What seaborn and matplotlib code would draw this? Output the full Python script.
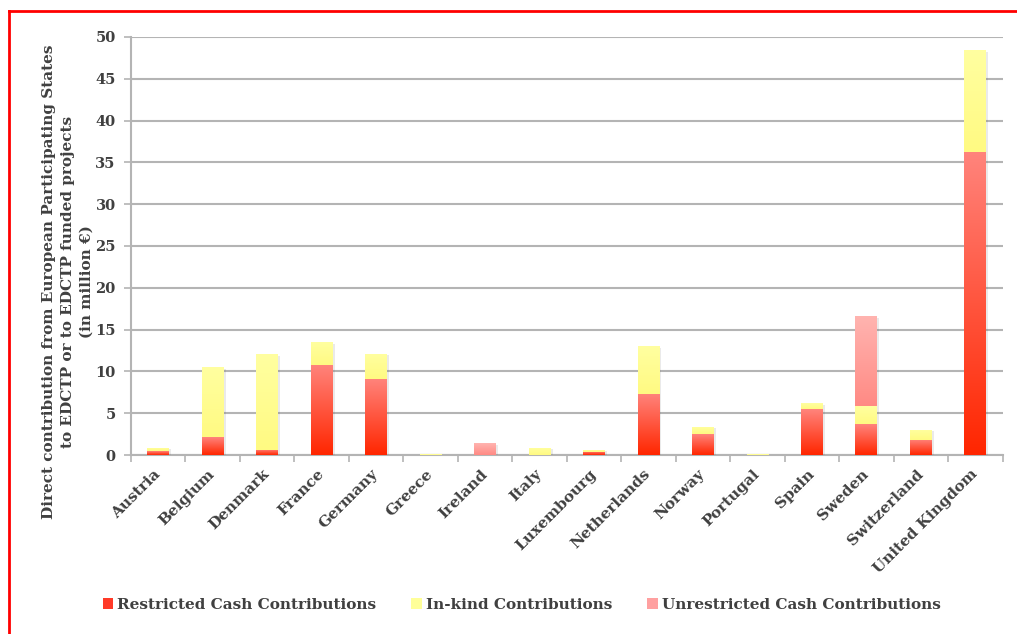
import numpy as np
import pandas as pd
import seaborn as sns
import matplotlib.pyplot as plt
import matplotlib.patheffects as pe
from matplotlib.patches import Patch
from matplotlib.lines import Line2D

countries = ["Austria", "Belgium", "Denmark", "France", "Germany", "Greece", "Ireland",
             "Italy", "Luxembourg", "Netherlands", "Norway", "Portugal", "Spain",
             "Sweden", "Switzerland", "United Kingdom"]
restricted = [0.45, 2.1, 0.65, 10.8, 9.1, 0.0, 0.0, 0.0, 0.4, 7.3, 2.5, 0.0, 5.5, 3.7, 1.8, 36.3]
in_kind = [0.4, 8.4, 11.4, 2.7, 3.0, 0.1, 0.0, 0.85, 0.25, 5.7, 0.85, 0.1, 0.7, 2.15, 1.2, 12.1]
unrestricted = [0.0, 0.0, 0.0, 0.0, 0.0, 0.0, 1.4, 0.0, 0.0, 0.0, 0.0, 0.0, 0.0, 10.75, 0.0, 0.0]

df = pd.DataFrame({"country": countries, "restricted": restricted,
                   "in_kind": in_kind, "unrestricted": unrestricted})
df["lvl1"] = df["restricted"]
df["lvl2"] = df["lvl1"] + df["in_kind"]
df["lvl3"] = df["lvl2"] + df["unrestricted"]

txt = "#404040"
grid_c = "#b4b4b4"
plt.rcParams["font.family"] = ["DejaVu Serif"]
plt.rcParams["font.weight"] = "bold"

fig = plt.figure(figsize=(10.17, 6.34), dpi=100)
ax = fig.add_axes([0.1288, 0.2823, 0.857, 0.6594])

# (column, bottom column, colour at bottom, colour at top, flat colour)
layers = [
    ("lvl3", "lvl2", (255, 138, 132), (255, 180, 176), "#ffa0a0"),
    ("lvl2", "lvl1", (255, 250, 130), (255, 255, 160), "#ffff99"),
    ("lvl1", None, (255, 38, 0), (255, 132, 124), "#ff4a35"),
]

bw = 0.4
shadow = [pe.SimplePatchShadow(offset=(1.5, -1), alpha=0.12, shadow_rgbFace="#555555"), pe.Normal()]
for col, bcol, cb, ct, flat in layers:
    n0 = len(ax.patches)
    sns.barplot(data=df, x="country", y=col, color=flat, width=bw, ax=ax,
                saturation=1, linewidth=0, zorder=3)
    new = ax.patches[n0:]
    for i, p in enumerate(new):
        top = df[col].iloc[i]
        bot = 0.0 if bcol is None else df[bcol].iloc[i]
        if top - bot <= 0:
            continue
        if bcol == "lvl2" or (bcol == "lvl1" and df["unrestricted"].iloc[i] == 0) or \
                (bcol is None and df["in_kind"].iloc[i] + df["unrestricted"].iloc[i] == 0):
            p.set_path_effects(shadow)
        g = np.linspace(0, 1, 128)[:, None, None]
        img = (np.array(cb)[None, None, :] + (np.array(ct) - np.array(cb))[None, None, :] * g) / 255.0
        x0 = p.get_x()
        im = ax.imshow(img, extent=[x0, x0 + p.get_width(), bot, top], origin="lower",
                       aspect="auto", zorder=4, interpolation="bilinear")
        im.set_clip_path(p)

ax.set_xlim(-0.5, len(countries) - 0.5)
ax.set_ylim(0, 50)
ax.set_yticks(range(0, 51, 5))
ax.yaxis.grid(True, color=grid_c, linewidth=1.5, zorder=0)
ax.set_axisbelow(True)
for s in ["top", "right"]:
    ax.spines[s].set_visible(False)
for s in ["left", "bottom"]:
    ax.spines[s].set_color(grid_c)
    ax.spines[s].set_linewidth(1.5)

ax.set_xticks(np.arange(-0.5, len(countries), 1.0), minor=True)
ax.tick_params(axis="x", which="minor", length=5, color=grid_c, width=1.2)
ax.tick_params(axis="x", which="major", length=0, pad=12)
ax.tick_params(axis="y", length=5, color=grid_c, width=1.2, labelsize=10.5, labelcolor=txt, pad=6)
ax.set_xticks(range(len(countries)))
ax.set_xticklabels(countries, rotation=45, ha="right", va="center", rotation_mode="anchor",
                   fontsize=11, color=txt, fontweight="bold")
ax.set_xlabel("")
ax.set_ylabel("Direct contribution from European Participating States\n"
              "to EDCTP or to EDCTP funded projects\n(in million \u20ac)",
              fontsize=11, color=txt, fontweight="bold", linespacing=1.45)
ax.yaxis.set_label_coords(-0.043, 0.415)

handles = [Patch(facecolor="#ff3a28", edgecolor="none"),
           Patch(facecolor="#ffff99", edgecolor="none"),
           Patch(facecolor="#ffa0a0", edgecolor="none")]
labels = ["Restricted Cash Contributions", "In-kind Contributions",
          "Unrestricted Cash Contributions"]
fig.legend(handles, labels, loc="center", bbox_to_anchor=(0.513, 0.046), ncol=3,
           frameon=False, handlelength=0.7, handleheight=0.7, handletextpad=0.25,
           columnspacing=2.3, prop={"size": 11, "weight": "bold"}, labelcolor=txt)

# red frame lines
fig.add_artist(Line2D([9 / 1017, 1], [1 - 11 / 634] * 2, color="red", lw=2, transform=fig.transFigure))
fig.add_artist(Line2D([9 / 1017] * 2, [0, 1 - 11 / 634], color="red", lw=2, transform=fig.transFigure))

fig.savefig("out.png", dpi=100)
